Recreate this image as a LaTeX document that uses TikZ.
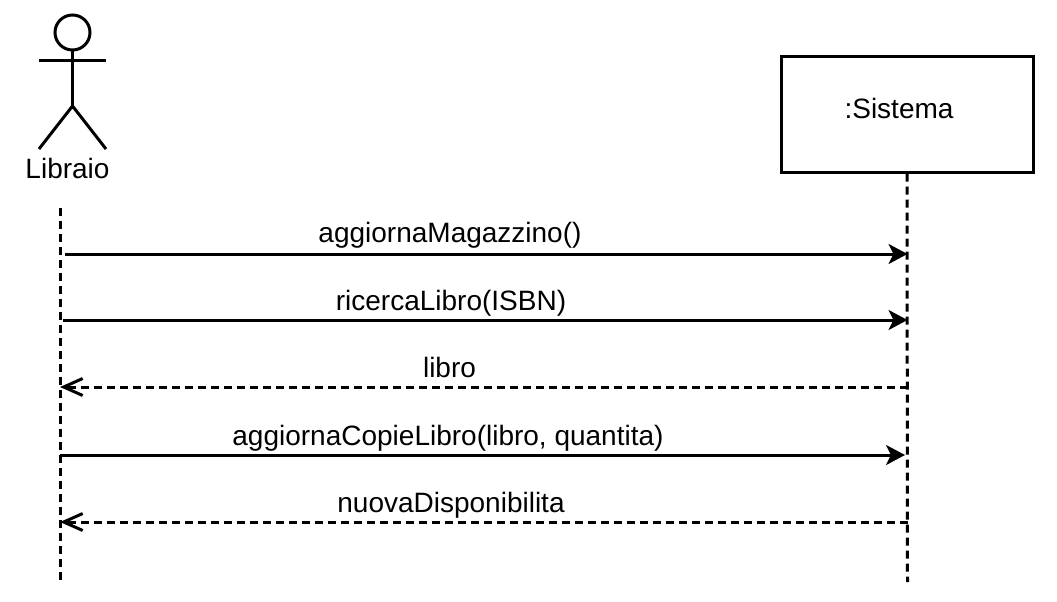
\documentclass[tikz,border=0pt]{standalone}
\usepackage{fontspec}
\setmainfont{Liberation Sans}
\usetikzlibrary{arrows.meta}
\begin{document}
\begin{tikzpicture}[x=1pt,y=-1pt,
  line width=3pt,
  lbl/.style={inner sep=0pt,anchor=base,font=\fontsize{28}{32}\selectfont},
  lifeline/.style={dash pattern=on 8pt off 5pt},
  call/.style={-{Stealth[length=19pt,width=20pt,inset=5pt]}},
  reply/.style={dash pattern=on 8pt off 5pt,-{Straight Barb[length=19pt,width=17pt]}}]
\useasboundingbox (0,0) rectangle (1057,602);

% actor stick figure
\draw (72.5,32.5) circle (17.5);
\draw (72.5,50) -- (72.5,106);
\draw (39,61) -- (106,61);
\draw (39,149) -- (72.5,106) -- (106,149);
\node[lbl] (libraio) at (67.5,178) {Libraio};

% system object
\node[draw,rectangle,minimum width=252pt,minimum height=115pt,inner sep=0pt] (sys) at (907,114.5) {};
\node[lbl] (sysname) at (899,118) {:Sistema};

% lifelines
\coordinate (actTop) at (60,208);
\coordinate (actEnd) at (60,582);
\coordinate (sysEnd) at (907.5,582);
\draw[lifeline] (actTop) -- (actEnd);
\draw[lifeline] (sys.south) -- (sysEnd);

% message anchors
\coordinate (a1) at (65,254);   \coordinate (s1) at (907.5,254);
\coordinate (a2) at (63,320);   \coordinate (s2) at (907.5,320);
\coordinate (a3) at (60,387);   \coordinate (s3) at (907.5,387);
\coordinate (a4) at (60,455);   \coordinate (s4) at (905,455);
\coordinate (a5) at (60,522);   \coordinate (s5) at (907.5,522);

% messages
\draw[call] (a1) -- (s1);
\node[lbl] (m1) at (450,242) {aggiornaMagazzino()};
\draw[call] (a2) -- (s2);
\node[lbl] (m2) at (451,310) {ricercaLibro(ISBN)};
\draw[reply] (s3) -- (a3);
\node[lbl] (m3) at (449.5,377) {libro};
\draw[call] (a4) -- (s4);
\node[lbl] (m4) at (448,445) {aggiornaCopieLibro(libro, quantita)};
\draw[reply] (s5) -- (a5);
\node[lbl] (m5) at (451,512) {nuovaDisponibilita};
\end{tikzpicture}
\end{document}
